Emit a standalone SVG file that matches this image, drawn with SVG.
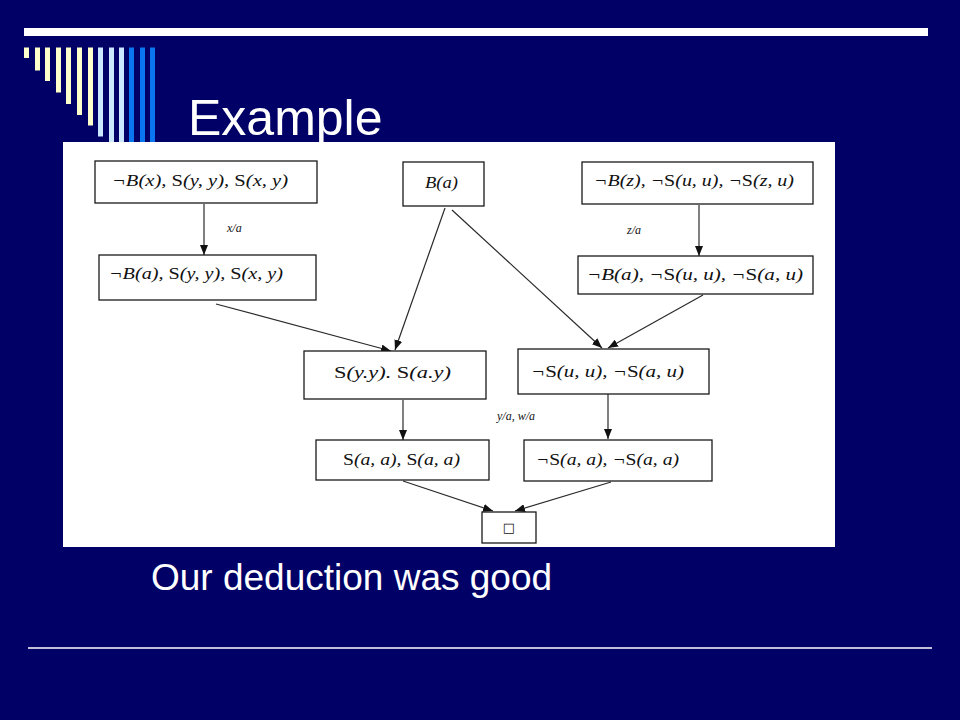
<svg xmlns="http://www.w3.org/2000/svg" width="960" height="720" viewBox="0 0 960 720">
<defs>
<style>
.bg{fill:#000066}
.y{fill:#FFFFCC}
.lb{fill:#CCE8FF}
.b{fill:#0A76F0}
.title{font-family:"Liberation Sans",Arial,sans-serif;fill:#FFFFFF}
.box{fill:#FFFFFF;stroke:#1a1a1a;stroke-width:1.3}
.t{font-family:"Liberation Serif","Times New Roman",serif;font-style:italic;font-size:16px;fill:#111111}
.u{font-style:normal}
.lbl{font-family:"Liberation Serif","Times New Roman",serif;font-style:italic;font-size:12px;fill:#111111}
.edge{stroke:#2a2a2a;stroke-width:1.2;fill:none;marker-end:url(#ah)}
</style>
<marker id="ah" markerUnits="userSpaceOnUse" markerWidth="10" markerHeight="8" refX="10" refY="4" orient="auto">
<path d="M0,0 L10,4 L0,8 z" fill="#111111"/>
</marker>
</defs>
<rect class="bg" x="0" y="0" width="960" height="720"/>
<g id="decor">
<rect x="24" y="28" width="904" height="8" fill="#FFFFFF"/>
<rect class="y" x="24" y="47.5" width="5" height="10.5"/>
<rect class="y" x="35" y="47.5" width="5" height="23"/>
<rect class="y" x="45" y="47.5" width="5" height="33.5"/>
<rect class="y" x="56" y="47.5" width="5" height="45"/>
<rect class="y" x="66" y="47.5" width="5" height="56.5"/>
<rect class="y" x="77" y="47.5" width="5" height="67.5"/>
<rect class="y" x="88" y="47.5" width="5" height="78"/>
<rect class="lb" x="98" y="47.5" width="5" height="89"/>
<rect class="lb" x="109" y="47.5" width="5" height="97"/>
<rect class="lb" x="119" y="47.5" width="5" height="97"/>
<rect class="b" x="129" y="47.5" width="5" height="97"/>
<rect class="b" x="140" y="47.5" width="5" height="97"/>
<rect class="b" x="150" y="47.5" width="5" height="97"/>
<text class="title" x="188" y="135" font-size="50">Example</text>
<line x1="28" y1="648" x2="932" y2="648" stroke="#FFFFFF" stroke-width="1.5"/>
<text class="title" x="151" y="590" font-size="37">Our deduction was good</text>
</g>
<rect id="panel" x="63" y="142" width="772" height="405" fill="#FFFFFF"/>
<g id="connectors">
<line class="edge" x1="204" y1="204" x2="204" y2="255"/>
<line class="edge" x1="699" y1="205" x2="699" y2="256"/>
<line class="edge" x1="216" y1="304" x2="391" y2="351"/>
<line class="edge" x1="445" y1="208" x2="395" y2="350"/>
<line class="edge" x1="452" y1="210" x2="602" y2="348"/>
<line class="edge" x1="703" y1="295" x2="608" y2="348"/>
<line class="edge" x1="403" y1="400" x2="403" y2="440"/>
<line class="edge" x1="608" y1="394" x2="608" y2="439"/>
<line class="edge" x1="403" y1="481" x2="493" y2="511"/>
<line class="edge" x1="611" y1="482" x2="515" y2="511"/>
<text class="lbl" x="227" y="232">x/a</text>
<text class="lbl" x="627" y="234">z/a</text>
<text class="lbl" x="497" y="420">y/a, w/a</text>
</g>
<g id="n1"><rect class="box" x="95" y="161" width="222" height="42"/><text class="t" x="112" y="186" textLength="176" lengthAdjust="spacingAndGlyphs">¬B(x), <tspan class="u">S</tspan>(y, y),  <tspan class="u">S</tspan>(x, y)</text></g>
<g id="n2"><rect class="box" x="99" y="255" width="217" height="45"/><text class="t" x="109" y="279" textLength="174" lengthAdjust="spacingAndGlyphs">¬B(a), <tspan class="u">S</tspan>(y, y),  <tspan class="u">S</tspan>(x, y)</text></g>
<g id="n3"><rect class="box" x="403" y="162" width="81" height="44"/><text class="t" x="425" y="188" textLength="33" lengthAdjust="spacingAndGlyphs">B(a)</text></g>
<g id="n4"><rect class="box" x="582" y="162" width="231" height="42"/><text class="t" x="594" y="186" textLength="200" lengthAdjust="spacingAndGlyphs">¬B(z), ¬<tspan class="u">S</tspan>(u, u), ¬<tspan class="u">S</tspan>(z, u)</text></g>
<g id="n5"><rect class="box" x="578" y="256" width="235" height="38"/><text class="t" x="587" y="280" textLength="216" lengthAdjust="spacingAndGlyphs">¬B(a), ¬<tspan class="u">S</tspan>(u, u), ¬<tspan class="u">S</tspan>(a, u)</text></g>
<g id="n6"><rect class="box" x="304" y="351" width="182" height="48"/><text class="t" x="334" y="378" textLength="117" lengthAdjust="spacingAndGlyphs"><tspan class="u">S</tspan>(y.y).  <tspan class="u">S</tspan>(a.y)</text></g>
<g id="n7"><rect class="box" x="518" y="349" width="191" height="45"/><text class="t" x="531" y="377" textLength="153" lengthAdjust="spacingAndGlyphs">¬<tspan class="u">S</tspan>(u, u), ¬<tspan class="u">S</tspan>(a, u)</text></g>
<g id="n8"><rect class="box" x="316" y="440" width="173" height="40"/><text class="t" x="343" y="465" textLength="117" lengthAdjust="spacingAndGlyphs"><tspan class="u">S</tspan>(a, a),  <tspan class="u">S</tspan>(a, a)</text></g>
<g id="n9"><rect class="box" x="524" y="440" width="188" height="41"/><text class="t" x="536" y="465" textLength="143" lengthAdjust="spacingAndGlyphs">¬<tspan class="u">S</tspan>(a, a), ¬<tspan class="u">S</tspan>(a, a)</text></g>
<g id="n10"><rect class="box" x="482" y="512" width="54" height="31"/><text x="509" y="532" text-anchor="middle" font-family="DejaVu Sans, sans-serif" font-size="13" fill="#111111">□</text></g>
</svg>
